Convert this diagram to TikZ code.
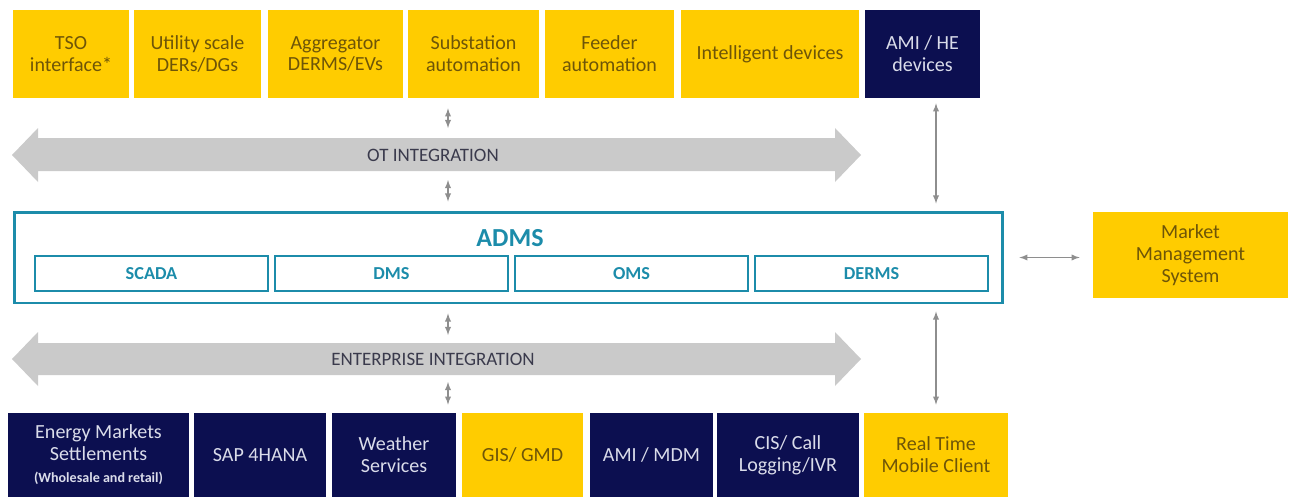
\documentclass[tikz,border=0pt]{standalone}
\usepackage{fontspec}
\setmainfont{Carlito}
\usetikzlibrary{calc}

\definecolor{yell}{HTML}{FFCC00}
\definecolor{navy}{HTML}{0C0F50}
\definecolor{brn}{HTML}{6E5508}
\definecolor{navytext}{HTML}{DADCEA}
\definecolor{admsblue}{HTML}{1C8CAA}
\definecolor{arrgray}{HTML}{CACACA}
\definecolor{lnkgray}{HTML}{8E8E8E}
\definecolor{inttext}{HTML}{3A3A4C}

\begin{document}
\begin{tikzpicture}[>=latex, x=0.02cm, y=-0.02cm]
        % Styles
        \tikzstyle{ybox}=[rectangle, fill=yell, text=brn, align=center, inner sep=1pt, font=\fontsize{11.4}{12.5}\selectfont]
        \tikzstyle{nbox}=[ybox, fill=navy, text=navytext]
        \tikzstyle{toprow}=[minimum height=1.76cm]
        \tikzstyle{botrow}=[minimum height=1.68cm]
        \tikzstyle{modbox}=[rectangle, draw=admsblue, line width=1.1pt, minimum width=4.66cm, minimum height=0.7cm, text=admsblue, font=\fontsize{10.4}{12}\selectfont\bfseries]
        \tikzstyle{intlabel}=[text=inttext, font=\fontsize{10.8}{12}\selectfont]
        \tikzstyle{link}=[<->, draw=lnkgray, line width=0.6pt]

        \useasboundingbox (0,0) rectangle (1291,497);

        % Top row
        \node[ybox, toprow, minimum width=2.32cm] (tso)   at (71,54)    {TSO\\interface*};
        \node[ybox, toprow, minimum width=2.54cm] (util)  at (197.5,54) {Utility scale\\DERs/DGs};
        \node[ybox, toprow, minimum width=2.70cm] (aggr)  at (335.5,54) {Aggregator\\DERMS/EVs};
        \node[ybox, toprow, minimum width=2.62cm] (sub)   at (473.5,54) {Substation\\automation};
        \node[ybox, toprow, minimum width=2.58cm] (feed)  at (609.5,54) {Feeder\\automation};
        \node[ybox, toprow, minimum width=3.56cm] (intel) at (770,54)   {Intelligent devices};
        \node[nbox, toprow, minimum width=2.30cm] (amihe) at (922.5,54) {AMI / HE\\devices};

        % Integration arrows
        \fill[arrgray] (12,155) -- (38,128) -- (38,138) -- (835,138) -- (835,128) -- (861,155)
                -- (835,182) -- (835,171) -- (38,171) -- (38,182) -- cycle;
        \node[intlabel] (ot) at (433,155) {OT INTEGRATION};
        \fill[arrgray] (12,359) -- (38,332) -- (38,343) -- (835,343) -- (835,332) -- (861,359)
                -- (835,386) -- (835,375) -- (38,375) -- (38,386) -- cycle;
        \node[intlabel] (ent) at (433,359) {ENTERPRISE INTEGRATION};

        % ADMS
        \node[rectangle, draw=admsblue, line width=1.7pt, minimum width=19.78cm, minimum height=1.82cm] (adms) at (508.5,257.5) {};
        \node[text=admsblue, font=\fontsize{14.8}{16}\selectfont\bfseries] (admst) at (510,238) {ADMS};
        \node[modbox] (scada) at (151.5,273.5) {SCADA};
        \node[modbox] (dms)   at (391.5,273.5) {DMS};
        \node[modbox] (oms)   at (631.5,273.5) {OMS};
        \node[modbox] (derms) at (871.5,273.5) {DERMS};

        \node[ybox, minimum width=3.9cm, minimum height=1.72cm] (mms) at (1190.5,255) {Market\\Management\\System};

        % Bottom row
        \node[nbox, botrow, minimum width=3.62cm] (ems)  at (98.5,455)  {Energy Markets\\Settlements\\{\fontsize{8}{10}\selectfont\bfseries (Wholesale and retail)}};
        \node[nbox, botrow, minimum width=2.64cm] (sap)  at (260,455)   {SAP 4HANA};
        \node[nbox, botrow, minimum width=2.48cm] (wth)  at (394,455)   {Weather\\Services};
        \node[ybox, botrow, minimum width=2.42cm] (gis)  at (522.5,455) {GIS/ GMD};
        \node[nbox, botrow, minimum width=2.46cm] (mdm)  at (651.5,455) {AMI / MDM};
        \node[nbox, botrow, minimum width=2.84cm] (cis)  at (788,455)   {CIS/ Call\\Logging/IVR};
        \node[ybox, botrow, minimum width=2.88cm] (rt)   at (936,455)   {Real Time\\Mobile Client};

        % Arrows
        \coordinate (lnk) at (448,0);
        \draw[link] ($(sub.south -| lnk)+(0,10)$) -- ($(ot.center -| lnk)+(0,-27)$);
        \draw[link] ($(ot.center -| lnk)+(0,25)$) -- ($(adms.north -| lnk)+(0,-9)$);
        \draw[link] ($(adms.south -| lnk)+(0,9)$) -- ($(ent.center -| lnk)+(0,-24)$);
        \draw[link] ($(ent.center -| lnk)+(0,23)$) -- ($(gis.north -| lnk)+(0,-8)$);
        \draw[link] ($(amihe.south -| rt)+(0,5)$) -- ($(adms.north -| rt)+(0,-7)$);
        \draw[link] ($(adms.south -| rt)+(0,7)$) -- ($(rt.north)+(0,-8)$);
        \draw[link] ($(adms.east)+(15,0)$) -- ($(mms.west |- adms.east)+(-13,0)$);
    \end{tikzpicture}
\end{document}
